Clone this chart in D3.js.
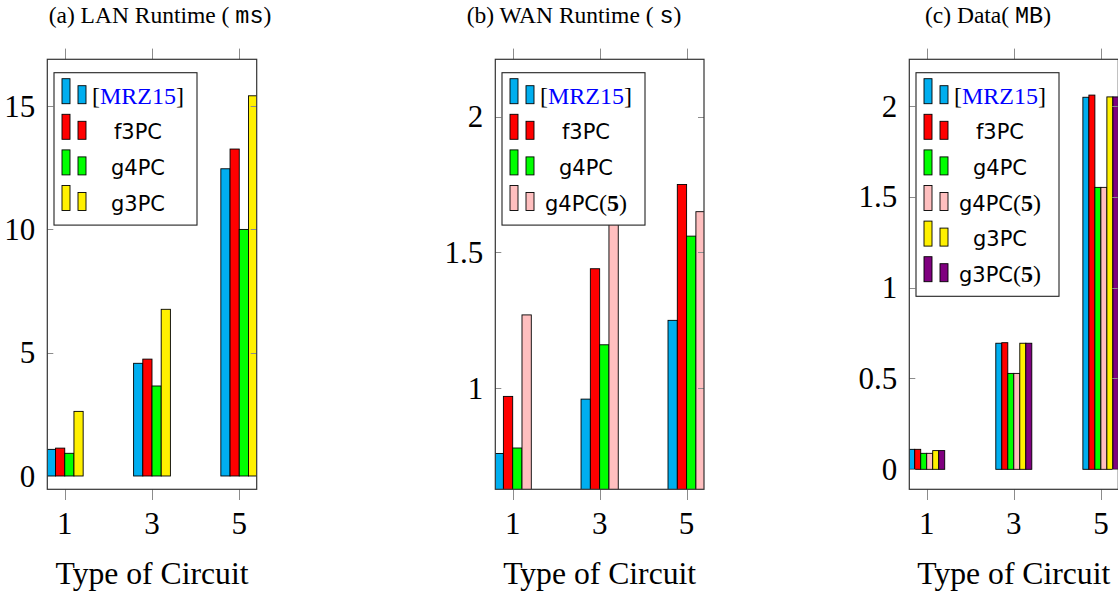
<!DOCTYPE html>
<html>
<head>
<meta charset="utf-8">
<script src="https://cdn.jsdelivr.net/npm/d3@7.9.0/dist/d3.min.js"></script>
<style>
  body { margin: 0; background: #fff; }
  svg { display: block; }
</style>
</head>
<body>
<svg id="chart" width="1118" height="598"></svg>
<script>
// circuit types on the x axis
const circuits = [1, 3, 5];

// (a) LAN runtime (ms)
const lanMRZ15 = [1.08, 4.57, 12.46];
const lanF3PC  = [1.13, 4.74, 13.26];
const lanG4PC  = [0.92, 3.65, 10.0];
const lanG3PC  = [2.62, 6.76, 15.42];

// (b) WAN runtime (s)
const wanMRZ15 = [0.76, 0.96, 1.25];
const wanF3PC  = [0.97, 1.44, 1.75];
const wanG4PC  = [0.78, 1.16, 1.56];
const wanG4PC5 = [1.27, 1.85, 1.65];

// (c) data (MB)
const dataMRZ15 = [0.11, 0.694, 2.048];
const dataF3PC  = [0.11, 0.697, 2.06];
const dataG4PC  = [0.088, 0.528, 1.552];
const dataG4PC5 = [0.088, 0.528, 1.552];
const dataG3PC  = [0.103, 0.694, 2.05];
const dataG3PC5 = [0.103, 0.694, 2.05];

const lanTicks = [0, 5, 10, 15];
const wanTicks = [1, 1.5, 2];
const dataTicks = [0, 0.5, 1, 1.5, 2];

const colors = {
    MRZ15: '#00aeef', f3PC: '#ff0000', g4PC: '#00ff00',
    g4PC5: '#ffbfbf', g3PC: '#fff000', g3PC5: '#7f007f'
};

const svg = d3.select('#chart');
const serif = '"Liberation Serif", "Times New Roman", serif';
const sans = '"DejaVu Sans", sans-serif';

function drawPanel(cfg, idx) {
    const x = d3.scaleLinear().domain([0.6, 5.4]).range([cfg.left, cfg.left + cfg.width]);
    const y = d3.scaleLinear().domain(cfg.yDomain).range([cfg.top + cfg.height, cfg.top]);
    const keys = cfg.series.map(s => s.key);
    const x1 = d3.scaleBand().domain(keys)
        .range([-cfg.barW * keys.length / 2, cfg.barW * keys.length / 2]);

    const g = svg.append('g');

    // title
    const t = g.append('text')
        .attr('x', cfg.titleX).attr('y', 22.7)
        .attr('text-anchor', 'middle')
        .style('font-family', serif).style('font-size', '23.5px');
    t.append('tspan').text(cfg.title[0]);
    t.append('tspan').style('font-family', '"Liberation Mono", monospace').text(cfg.title[1]);
    t.append('tspan').text(')');

    const clipId = 'clip' + idx;
    g.append('clipPath').attr('id', clipId)
        .append('rect')
        .attr('x', cfg.left).attr('y', cfg.top)
        .attr('width', cfg.width).attr('height', cfg.height);

    // bars
    const bars = g.append('g').attr('clip-path', `url(#${clipId})`);
    cfg.series.forEach(s => {
        bars.selectAll(null)
            .data(s.values)
            .join('rect')
            .attr('x', (d, i) => x(circuits[i]) + x1(s.key))
            .attr('width', x1.bandwidth())
            .attr('y', d => y(d))
            .attr('height', d => y(0) - y(d))
            .attr('fill', colors[s.key])
            .attr('stroke', '#000')
            .attr('stroke-width', 0.9);
    });

    // y ticks (inside, both sides) and labels
    cfg.yTicks.forEach(v => {
        const yy = Math.round(y(v)) + 0.5;
        g.append('line').attr('x1', cfg.left).attr('x2', cfg.left + 6)
            .attr('y1', yy).attr('y2', yy).attr('stroke', '#8c8c8c');
        g.append('line').attr('x1', cfg.left + cfg.width - 6).attr('x2', cfg.left + cfg.width)
            .attr('y1', yy).attr('y2', yy).attr('stroke', '#8c8c8c');
        g.append('text')
            .attr('x', cfg.left - 12).attr('y', y(v))
            .attr('dy', '0.34em')
            .attr('text-anchor', 'end')
            .style('font-family', serif).style('font-size', '31px')
            .text(String(v));
    });

    // x ticks (outside, top and bottom) and labels
    circuits.forEach(c => {
        const xx = Math.round(x(c)) + 0.5;
        g.append('line').attr('x1', xx).attr('x2', xx)
            .attr('y1', cfg.top - 10.7).attr('y2', cfg.top).attr('stroke', '#8c8c8c');
        g.append('line').attr('x1', xx).attr('x2', xx)
            .attr('y1', cfg.top + cfg.height).attr('y2', cfg.top + cfg.height + 10.7)
            .attr('stroke', '#8c8c8c');
        g.append('text')
            .attr('x', x(c)).attr('y', cfg.top + cfg.height + 45)
            .attr('text-anchor', 'middle')
            .style('font-family', serif).style('font-size', '31px')
            .text(c);
    });

    // frame
    g.append('rect')
        .attr('x', cfg.left).attr('y', cfg.top)
        .attr('width', cfg.width).attr('height', cfg.height)
        .attr('fill', 'none').attr('stroke', '#333').attr('stroke-width', 1.2);

    // x axis title
    g.append('text')
        .attr('x', cfg.left + cfg.width / 2).attr('y', 584)
        .attr('text-anchor', 'middle')
        .attr('textLength', 193).attr('lengthAdjust', 'spacingAndGlyphs')
        .style('font-family', serif).style('font-size', '30.5px')
        .text('Type of Circuit');

    // legend
    const lx = cfg.left + 6.7, ly = cfg.top + 13.4;
    const rowH = 35.6;
    const leg = g.append('g');
    leg.append('rect')
        .attr('x', lx).attr('y', ly)
        .attr('width', 143).attr('height', cfg.series.length * rowH + 10)
        .attr('fill', '#fff').attr('stroke', '#222').attr('stroke-width', 1.1);
    cfg.series.forEach((s, i) => {
        const base = ly + 31 + rowH * i;
        leg.append('rect').attr('x', lx + 8).attr('y', base - 25)
            .attr('width', 8).attr('height', 25)
            .attr('fill', colors[s.key]).attr('stroke', '#000').attr('stroke-width', 0.9);
        leg.append('rect').attr('x', lx + 24).attr('y', base - 18)
            .attr('width', 8).attr('height', 18)
            .attr('fill', colors[s.key]).attr('stroke', '#000').attr('stroke-width', 0.9);
        const txt = leg.append('text')
            .attr('x', lx + 84).attr('y', base)
            .attr('text-anchor', 'middle');
        if (s.key === 'MRZ15') {
            txt.style('font-family', serif).style('font-size', '24px');
            txt.append('tspan').text('[');
            txt.append('tspan').attr('fill', '#0000ff').text('MRZ15');
            txt.append('tspan').text(']');
        } else {
            txt.append('tspan').style('font-family', sans).style('font-size', '21px').text(s.name);
            if (s.suffix) {
                txt.append('tspan').style('font-family', serif).style('font-size', '24px').text('(');
                txt.append('tspan').style('font-family', serif).style('font-size', '24px')
                    .style('font-weight', 'bold').text(s.suffix);
                txt.append('tspan').style('font-family', serif).style('font-size', '24px').text(')');
            }
        }
    });
}

const panels = [
    {
        title: ['(a) LAN Runtime ( ', 'ms'], titleX: 160,
        left: 47.3, top: 59.3, width: 209.4, height: 430,
        yDomain: [-0.54, 16.9], yTicks: lanTicks, barW: 9.2,
        series: [
            { key: 'MRZ15', values: lanMRZ15 },
            { key: 'f3PC', name: 'f3PC', values: lanF3PC },
            { key: 'g4PC', name: 'g4PC', values: lanG4PC },
            { key: 'g3PC', name: 'g3PC', values: lanG3PC }
        ]
    },
    {
        title: ['(b) WAN Runtime ( ', 's'], titleX: 574,
        left: 495.3, top: 59.3, width: 208.7, height: 430,
        yDomain: [0.628, 2.211], yTicks: wanTicks, barW: 9.3,
        series: [
            { key: 'MRZ15', values: wanMRZ15 },
            { key: 'f3PC', name: 'f3PC', values: wanF3PC },
            { key: 'g4PC', name: 'g4PC', values: wanG4PC },
            { key: 'g4PC5', name: 'g4PC', suffix: '5', values: wanG4PC5 }
        ]
    },
    {
        title: ['(c) Data( ', 'MB'], titleX: 988,
        left: 909.3, top: 59.3, width: 209, height: 430,
        yDomain: [-0.11, 2.257], yTicks: dataTicks, barW: 6,
        series: [
            { key: 'MRZ15', values: dataMRZ15 },
            { key: 'f3PC', name: 'f3PC', values: dataF3PC },
            { key: 'g4PC', name: 'g4PC', values: dataG4PC },
            { key: 'g4PC5', name: 'g4PC', suffix: '5', values: dataG4PC5 },
            { key: 'g3PC', name: 'g3PC', values: dataG3PC },
            { key: 'g3PC5', name: 'g3PC', suffix: '5', values: dataG3PC5 }
        ]
    }
];

panels.forEach((p, i) => drawPanel(p, i));
</script>
</body>
</html>
